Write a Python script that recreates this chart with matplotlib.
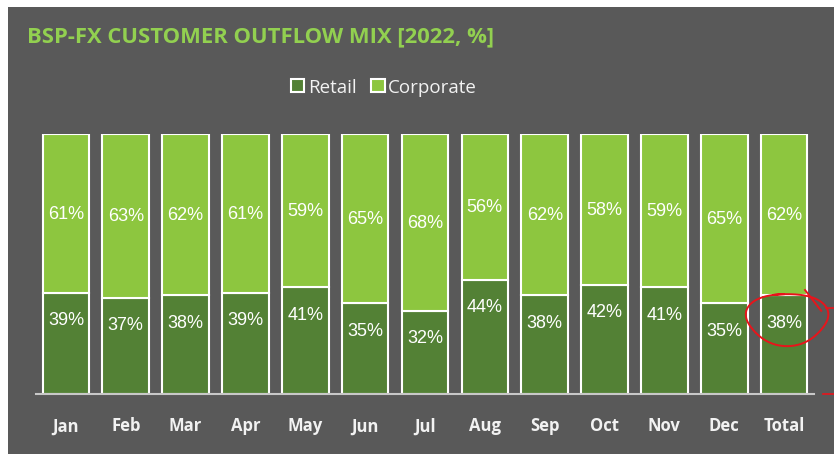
import matplotlib.pyplot as plt
import numpy as np
from matplotlib.patches import Rectangle

months = ["Jan", "Feb", "Mar", "Apr", "May", "Jun", "Jul", "Aug", "Sep", "Oct", "Nov", "Dec", "Total"]
retail = [39, 37, 38, 39, 41, 35, 32, 44, 38, 42, 41, 35, 38]
corporate = [61, 63, 62, 61, 59, 65, 68, 56, 62, 58, 59, 65, 62]

BG = "#595959"
DARK = "#538135"
LIGHT = "#8DC63F"
TITLE = "#92D050"
TXT = "#F2F2F2"
W, H = 834, 456

fig = plt.figure(figsize=(W / 100, H / 100), dpi=100, facecolor="white")
fig.patches.append(Rectangle((8 / W, 1 / H), 1, (H - 9) / H, transform=fig.transFigure,
                             facecolor=BG, edgecolor="none", zorder=-10))

ax = fig.add_axes([36 / W, (H - 395) / H, (814 - 36) / W, (395 - 135) / H])
ax.set_facecolor("none")

x = np.arange(len(months))
r = np.array(retail) / 100
c = np.array(corporate) / 100
b1 = ax.bar(x, r, width=0.78, color=DARK, edgecolor="white", linewidth=1.5, label="Retail")
b2 = ax.bar(x, c, width=0.78, bottom=r, color=LIGHT, edgecolor="white", linewidth=1.5, label="Corporate")

lab_font = dict(family=["Liberation Sans Narrow", "Liberation Sans"], size=13, color="white")
for xi, rv, cv in zip(x, r, c):
    ax.annotate(f"{rv * 100:.0f}%", (xi, rv), xytext=(0, -19.5), textcoords="offset points",
                ha="center", va="center", **lab_font)
    ax.text(xi, rv + cv / 2, f"{cv * 100:.0f}%", ha="center", va="center", **lab_font)

ax.set_xlim(-0.5, len(months) - 0.5)
ax.set_ylim(0, 1)
ax.set_yticks([])
ax.set_xticks(x)
ax.set_xticklabels(months, fontfamily="Open Sans", fontweight="bold", fontsize=12, color=TXT)
ax.tick_params(axis="x", length=0, pad=16)
for s in ["top", "left", "right"]:
    ax.spines[s].set_visible(False)
ax.spines["bottom"].set_color("#C8C8C8")
ax.spines["bottom"].set_linewidth(1.5)

# hand-drawn red loop around the Total retail label
t = np.linspace(np.radians(95), np.radians(95 + 375), 200)
wob = 1 + 0.06 * np.sin(3 * t)
cx, cy = x[-1] + 0.05, r[-1] - 0.09
ax.plot(cx + 0.68 * wob * np.cos(t), cy + 0.10 * wob * np.sin(t),
        color="#E8141B", lw=1.4, clip_on=False, zorder=5)
ax.plot([x[-1] + 0.35, x[-1] + 0.62], [r[-1] + 0.02, r[-1] - 0.06],
        color="#E8141B", lw=1.4, clip_on=False, zorder=5)
ax.plot([x[-1] + 0.7, x[-1] + 0.83], [r[-1] - 0.05, r[-1] - 0.05],
        color="#E8141B", lw=1.2, clip_on=False, zorder=5)
ax.plot([x[-1] + 0.65, x[-1] + 0.83], [0, 0],
        color="#E8141B", lw=1.2, clip_on=False, zorder=5)

fig.text(27 / W, 1 - 37 / H, "BSP-FX CUSTOMER OUTFLOW MIX [2022, %]", fontfamily="Open Sans",
         fontweight="bold", fontsize=15.8, color=TITLE, ha="left", va="center")

fig.legend(handles=[b1, b2], loc="center", bbox_to_anchor=(384 / W, 1 - 88 / H), ncol=2,
           frameon=False, handlelength=0.7, handleheight=0.7, handletextpad=0.2,
           columnspacing=0.8, prop=dict(family="Open Sans", size=13.5), labelcolor=TXT)

fig.savefig("out.png", dpi=100, facecolor=fig.get_facecolor())
